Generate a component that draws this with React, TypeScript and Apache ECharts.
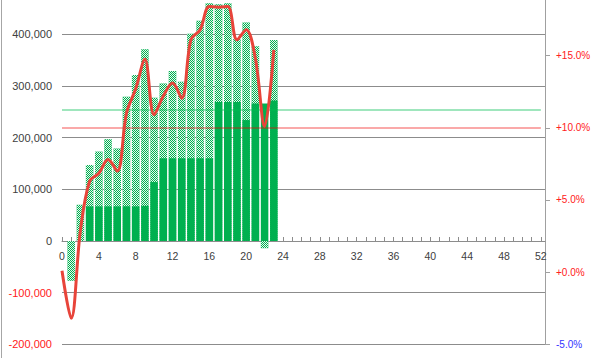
import React, { useEffect, useRef } from "react";
import * as echarts from "echarts";

const weeks = [1, 2, 3, 4, 5, 6, 7, 8, 9, 10, 11, 12, 13, 14, 15, 16, 17, 18, 19, 20, 21, 22, 23];
const weeklyValues = [-77000, 70000, 147000, 173000, 197000, 179000, 279000, 321000, 371000, 277000, 305000, 329000, 308000, 401000, 426000, 460000, 458000, 460000, 391000, 423000, 377000, -14000, 389000];
const baseValues = [0, 0, 67000, 67000, 67000, 67000, 67000, 67000, 68000, 114000, 160000, 160000, 160000, 160000, 160000, 160000, 269000, 269000, 269000, 234000, 266000, 266000, 272000];
const rateWeeks = [0, 1, 2, 3, 4, 5, 6, 7, 8, 9, 10, 11, 12, 13, 14, 15, 16, 17, 18, 19, 20, 21, 22, 23];
const rateValues = [0.1, -3.2, 2.9, 6.3, 6.85, 7.8, 7.0, 11.0, 12.7, 14.75, 10.9, 12.2, 13.1, 12.05, 16.1, 16.8, 18.4, 18.35, 18.4, 16.1, 16.8, 14.8, 10.1, 15.4];
const xTickValues = Array.from({ length: 53 }, (_, i) => i);
const xLabelValues = [0, 4, 8, 12, 16, 20, 24, 28, 32, 36, 40, 44, 48, 52];
const leftTickValues = [-200000, -100000, 0, 100000, 200000, 300000, 400000];
const rightTickValues = [-5, 0, 5, 10, 15];
const greenRefValue = 254000;
const redRefValue = 10;

// plot frame (pixels)
const GRID_LEFT = 62;
const GRID_RIGHT_X = 545;
const GRID_TOP = 0;
const GRID_BOTTOM_Y = 344.3;
const ZERO_Y = 241;
const LEFT_MIN = -200000;
const LEFT_MAX = 466400;
const RIGHT_MIN = -5;
const RIGHT_MAX = 18.855;

export default function App() {
  const ref = useRef<HTMLDivElement>(null);
  useEffect(() => {
    if (!ref.current) return;
    const chart = echarts.init(ref.current, null, { renderer: "svg" });
    const font = "'Liberation Sans', Arial, sans-serif";
    chart.setOption({
      animation: false,
      backgroundColor: "#ffffff",
      grid: { left: GRID_LEFT, right: 600 - GRID_RIGHT_X, top: GRID_TOP, bottom: 358 - GRID_BOTTOM_Y, containLabel: false },
      graphic: [
        { type: "line", shape: { x1: 1.5, y1: 0, x2: 1.5, y2: 358 }, style: { stroke: "#a6a6a6", lineWidth: 1 } },
      ],
      xAxis: {
        type: "value",
        min: 0,
        max: 52.45,
        position: "bottom",
        offset: -(GRID_BOTTOM_Y - ZERO_Y),
        axisLine: { show: true, onZero: false, lineStyle: { color: "#8c8c8c", width: 1 } },
        axisTick: { show: true, inside: true, length: 4, customValues: xTickValues, lineStyle: { color: "#8c8c8c" } },
        axisLabel: { customValues: xLabelValues, margin: 9, color: "#404040", fontSize: 10.5, fontFamily: font },
        splitLine: { show: false },
      },
      yAxis: [
        {
          type: "value",
          position: "left",
          min: LEFT_MIN,
          max: LEFT_MAX,
          axisLine: { show: false },
          axisTick: { show: false, customValues: leftTickValues },
          axisLabel: {
            customValues: leftTickValues,
            margin: 10,
            fontSize: 11,
            fontFamily: font,
            color: (v: any) => (Number(v) < 0 ? "#ff2020" : "#404040"),
            formatter: (v: number) => v.toLocaleString("en-US"),
          },
          splitLine: { show: true, lineStyle: { color: "#8c8c8c", width: 1 } },
        },
        {
          type: "value",
          position: "right",
          min: RIGHT_MIN,
          max: RIGHT_MAX,
          axisLine: { show: true, lineStyle: { color: "#a0a0a0", width: 1 } },
          axisTick: { show: true, inside: false, length: 5, customValues: rightTickValues, lineStyle: { color: "#a0a0a0" } },
          axisLabel: {
            customValues: rightTickValues,
            margin: 11,
            fontSize: 10,
            fontFamily: font,
            color: (v: any) => (Number(v) < 0 ? "#3333ff" : "#ff2020"),
            formatter: (v: number) => (v >= 0 ? "+" : "") + v.toFixed(1) + "%",
          },
          splitLine: { show: false },
        },
      ],
      series: [
        {
          type: "bar",
          name: "weekly",
          xAxisIndex: 0,
          yAxisIndex: 0,
          barWidth: 7.5,
          barGap: "-100%",
          data: weeks.map((w, i) => [w, weeklyValues[i]]),
          itemStyle: {
            color: "#00b050",
            decal: {
              color: "rgba(255,255,255,0.9)",
              symbol: "rect",
              symbolSize: 1,
              dashArrayX: [[1, 1], [0, 1, 1, 0]],
              dashArrayY: [1, 0],
              rotation: 0,
            },
          },
          markLine: {
            silent: true,
            symbol: "none",
            label: { show: false },
            lineStyle: { color: "rgba(0,190,80,0.5)", width: 1.5, type: "solid" },
            data: [[{ coord: [0, greenRefValue] }, { coord: [52, greenRefValue] }]],
          },
          z: 2,
        },
        {
          type: "bar",
          name: "base",
          xAxisIndex: 0,
          yAxisIndex: 0,
          barWidth: 7.5,
          barGap: "-100%",
          data: weeks.map((w, i) => [w, baseValues[i]]),
          itemStyle: { color: "#00b050" },
          z: 3,
        },
        {
          type: "line",
          name: "rate",
          xAxisIndex: 0,
          yAxisIndex: 1,
          smooth: 0.35,
          symbol: "none",
          data: rateWeeks.map((w, i) => [w, rateValues[i]]),
          lineStyle: { color: "#e8443a", width: 3 },
          markLine: {
            silent: true,
            symbol: "none",
            label: { show: false },
            lineStyle: { color: "rgba(240,0,0,0.45)", width: 1.5, type: "solid" },
            data: [[{ coord: [0, redRefValue] }, { coord: [52, redRefValue] }]],
          },
          z: 5,
        },
      ],
    });
    return () => chart.dispose();
  }, []);
  return <div ref={ref} style={{ width: 600, height: 358, position: "fixed", left: 0, top: 0 }} />;
}
